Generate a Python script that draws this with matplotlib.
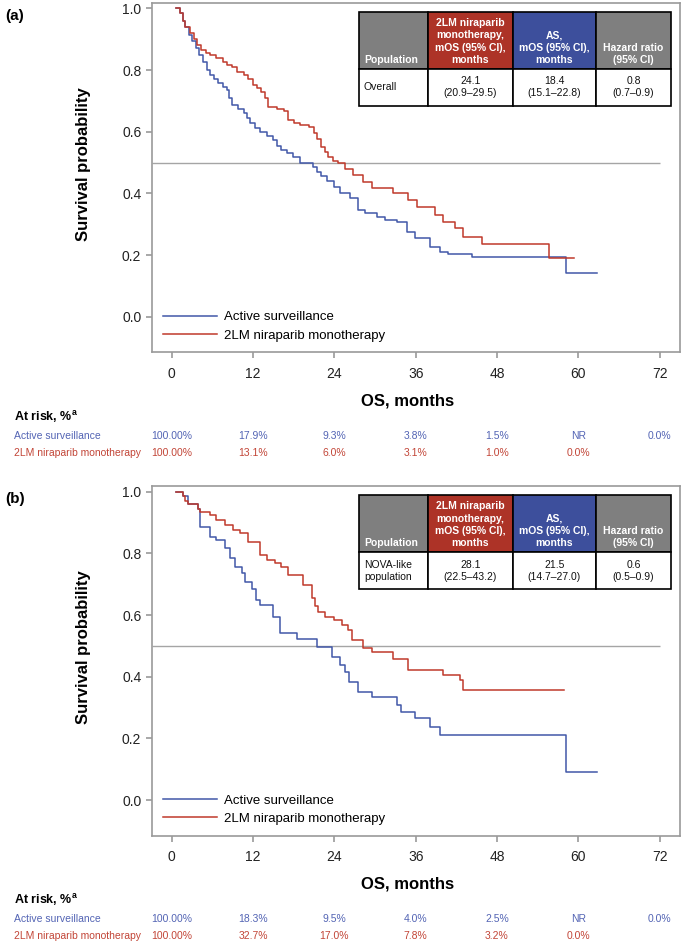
import matplotlib
matplotlib.use('Agg')
import matplotlib.pyplot as plt
from matplotlib.patches import Rectangle
from matplotlib.transforms import blended_transform_factory

plt.rcParams['font.family'] = ['Liberation Sans', 'DejaVu Sans']

# Kaplan-Meier steps: month of drop, survival after it
a_as_t = [0.6, 1.2, 1.7, 2.0, 2.5, 3.0, 3.6, 4.1, 4.6, 5.2, 5.7, 6.3, 6.9, 7.6, 8.1, 8.5, 8.9,
          9.8, 10.6, 11.1, 11.6, 12.3, 13.0, 14.0, 15.0, 15.5, 16.1, 17.0, 17.9, 18.9, 20.9,
          21.5, 22.0, 22.9, 23.9, 24.8, 26.3, 27.5, 28.5, 30.3, 31.5, 33.2, 34.7, 35.9, 38.1,
          39.6, 40.8, 44.3, 58.2, 62.7]
a_as_s = [1.0, 0.985, 0.96, 0.94, 0.915, 0.895, 0.87, 0.85, 0.825, 0.80, 0.784, 0.77, 0.757,
          0.745, 0.735, 0.71, 0.685, 0.672, 0.66, 0.645, 0.627, 0.612, 0.60, 0.585, 0.573,
          0.555, 0.54, 0.53, 0.519, 0.50, 0.486, 0.47, 0.455, 0.44, 0.422, 0.40, 0.384, 0.346,
          0.335, 0.324, 0.315, 0.308, 0.276, 0.254, 0.227, 0.211, 0.203, 0.193, 0.141, 0.141]
a_nir_t = [0.6, 1.2, 1.7, 2.0, 2.7, 3.3, 3.8, 4.3, 5.0, 5.7, 6.6, 7.6, 8.2, 8.9, 9.6, 10.6,
           11.3, 12.0, 12.6, 13.2, 13.8, 14.2, 15.5, 16.6, 17.1, 18.0, 19.0, 20.2, 21.0, 21.5,
           22.0, 22.6, 23.1, 23.8, 24.5, 25.5, 26.7, 28.3, 29.6, 32.7, 34.9, 36.2, 38.9, 40.1,
           41.8, 43.0, 45.8, 55.6, 59.4]
a_nir_s = [1.0, 0.985, 0.96, 0.94, 0.92, 0.90, 0.88, 0.865, 0.855, 0.848, 0.838, 0.827,
           0.815, 0.81, 0.795, 0.784, 0.77, 0.751, 0.742, 0.73, 0.71, 0.68, 0.675, 0.668,
           0.638, 0.628, 0.621, 0.615, 0.596, 0.575, 0.551, 0.535, 0.519, 0.505, 0.497, 0.48,
           0.46, 0.438, 0.418, 0.40, 0.378, 0.355, 0.33, 0.308, 0.287, 0.257, 0.235, 0.189, 0.189]

b_as_t = [0.6, 1.6, 2.45, 3.9, 4.2, 5.65, 6.6, 7.9, 8.6, 9.3, 10.3, 10.8, 11.8, 12.5, 13.0,
          15.0, 16.0, 18.5, 21.5, 23.6, 24.8, 25.6, 26.1, 27.5, 29.5, 33.2, 33.9, 35.9, 38.1,
          39.6, 58.2, 62.7]
b_as_s = [1.0, 0.985, 0.96, 0.944, 0.886, 0.854, 0.843, 0.816, 0.784, 0.757, 0.735, 0.708,
          0.686, 0.649, 0.633, 0.595, 0.541, 0.524, 0.497, 0.465, 0.438, 0.416, 0.384, 0.351,
          0.335, 0.308, 0.286, 0.265, 0.238, 0.211, 0.092, 0.092]
b_nir_t = [0.6, 1.6, 2.0, 2.45, 3.9, 4.2, 5.65, 6.6, 7.9, 9.1, 10.1, 11.3, 13.0, 14.0, 15.2,
           16.2, 17.2, 19.4, 20.7, 21.2, 21.6, 22.6, 23.9, 25.1, 26.0, 26.6, 28.3, 29.5, 32.7,
           34.9, 40.1, 42.6, 43.0, 57.9]
b_nir_s = [1.0, 0.985, 0.97, 0.96, 0.944, 0.933, 0.925, 0.908, 0.892, 0.876, 0.865, 0.838,
           0.795, 0.778, 0.768, 0.757, 0.73, 0.697, 0.654, 0.63, 0.61, 0.595, 0.584, 0.567,
           0.551, 0.519, 0.492, 0.481, 0.459, 0.422, 0.405, 0.389, 0.357, 0.357]

month_ticks = [0, 12, 24, 36, 48, 60, 72]
surv_ticks = [0.0, 0.2, 0.4, 0.6, 0.8, 1.0]

a_risk_as = ['100.00%', '17.9%', '9.3%', '3.8%', '1.5%', 'NR', '0.0%']
a_risk_nir = ['100.00%', '13.1%', '6.0%', '3.1%', '1.0%', '0.0%']
b_risk_as = ['100.00%', '18.3%', '9.5%', '4.0%', '2.5%', 'NR', '0.0%']
b_risk_nir = ['100.00%', '32.7%', '17.0%', '7.8%', '3.2%', '0.0%']

table_header = ['Population', '2LM niraparib\nmonotherapy,\nmOS (95% CI),\nmonths',
                'AS,\nmOS (95% CI),\nmonths', 'Hazard ratio\n(95% CI)']
a_table_row = ['Overall', '24.1\n(20.9\u201329.5)', '18.4\n(15.1\u201322.8)', '0.8\n(0.7\u20130.9)']
b_table_row = ['NOVA-like\npopulation', '28.1\n(22.5\u201343.2)', '21.5\n(14.7\u201327.0)',
               '0.6\n(0.5\u20130.9)']

BLUE = '#4157a8'
RED = '#c0392b'
BLUE_TXT = '#5364b4'
RED_TXT = '#c24537'
HEAD_COLORS = ['#7f7f7f', '#ad3327', '#3d4f9c', '#7f7f7f']
SPINE = '#9a9a9a'

W, H = 683, 943
AX_L, AX_W, AX_H = 151.7, 528.3, 349.3
fig = plt.figure(figsize=(W / 100, H / 100), dpi=100)


def panel(top, letter, as_t, as_s, nir_t, nir_s, row, risk_as, risk_nir):
    ax = fig.add_axes([AX_L / W, 1 - (top + AX_H) / H, AX_W / W, AX_H / H])
    ax.step(as_t, as_s, where='post', color=BLUE, lw=1.1, label='Active surveillance')
    ax.step(nir_t, nir_s, where='post', color=RED, lw=1.1, label='2LM niraparib monotherapy')
    ax.hlines(0.5, -2.95, 72, color='#a5a5a5', lw=1.0, zorder=0)
    ax.set_xlim(-2.95, 75.0)
    ax.set_ylim(-0.1154, 1.0173)
    ax.set_xticks(month_ticks)
    ax.set_yticks(surv_ticks)
    ax.set_yticklabels(['%.1f' % v for v in surv_ticks])
    for sp in ax.spines.values():
        sp.set_color(SPINE)
        sp.set_linewidth(1.2)
    ax.tick_params(axis='both', color=SPINE, width=1.2, length=4.5, labelsize=10,
                   labelcolor='#222222')
    ax.tick_params(axis='x', pad=6)
    ax.tick_params(axis='y', pad=3)
    ax.set_ylabel('Survival probability', fontsize=12, fontweight='bold')
    ax.yaxis.set_label_coords(-0.115, 0.54)
    ax.legend(loc='center left', bbox_to_anchor=(0.0214, 0.074), frameon=False, fontsize=9.5,
              handlelength=4.1, handletextpad=0.55, labelspacing=0.45, borderpad=0,
              borderaxespad=0)

    def fx(x):
        return (x - AX_L) / AX_W

    def fy(y):
        return 1 - (y - top) / AX_H

    # summary table in the upper right
    cols = [359, 428, 513, 596, 671]
    y0, y1, y2 = top + 8.7, top + 66.0, top + 102.7
    for i in range(4):
        ax.add_patch(Rectangle((fx(cols[i]), fy(y1)), fx(cols[i + 1]) - fx(cols[i]),
                               fy(y0) - fy(y1), transform=ax.transAxes,
                               facecolor=HEAD_COLORS[i], edgecolor='black', lw=1.2, zorder=5))
        ax.add_patch(Rectangle((fx(cols[i]), fy(y2)), fx(cols[i + 1]) - fx(cols[i]),
                               fy(y1) - fy(y2), transform=ax.transAxes,
                               facecolor='white', edgecolor='black', lw=1.2, zorder=5))
        if i == 0:
            hx, ha = fx(cols[0] + 5), 'left'
        else:
            hx, ha = fx((cols[i] + cols[i + 1]) / 2), 'center'
        ax.text(hx, fy(y1 - 4), table_header[i], transform=ax.transAxes, ha=ha, va='bottom',
                color='white', fontsize=7.5, fontweight='bold', linespacing=1.3, zorder=6)
        ax.text(hx, fy((y1 + y2) / 2), row[i], transform=ax.transAxes, ha=ha, va='center',
                color='#111111', fontsize=7.5, linespacing=1.25, zorder=6)

    # panel letter, x label and the at-risk rows
    fig.text(5 / W, 1 - (top + 13) / H, letter, fontsize=11, fontweight='bold', va='center')
    fig.text(408 / W, 1 - (top + 398) / H, 'OS, months', fontsize=12, fontweight='bold',
             ha='center', va='center')
    fig.text(14 / W, 1 - (top + 414) / H, 'At risk, %$^{\\mathregular{a}}$', fontsize=9,
             fontweight='bold', va='center')
    fig.text(14 / W, 1 - (top + 433) / H, 'Active surveillance', fontsize=7.5,
             color=BLUE_TXT, va='center')
    fig.text(14 / W, 1 - (top + 449.5) / H, '2LM niraparib monotherapy', fontsize=7.5,
             color=RED_TXT, va='center')
    tr = blended_transform_factory(ax.transData, fig.transFigure)
    for m, v in zip(month_ticks, risk_as):
        fig.text(m, 1 - (top + 433) / H, v, transform=tr, fontsize=7.5, color=BLUE_TXT,
                 ha='center', va='center')
    for m, v in zip(month_ticks, risk_nir):
        fig.text(m, 1 - (top + 449.5) / H, v, transform=tr, fontsize=7.5, color=RED_TXT,
                 ha='center', va='center')
    return ax


panel(3.0, '(a)', a_as_t, a_as_s, a_nir_t, a_nir_s, a_table_row, a_risk_as, a_risk_nir)
panel(486.4, '(b)', b_as_t, b_as_s, b_nir_t, b_nir_s, b_table_row, b_risk_as, b_risk_nir)

fig.savefig('out.png', dpi=100)
